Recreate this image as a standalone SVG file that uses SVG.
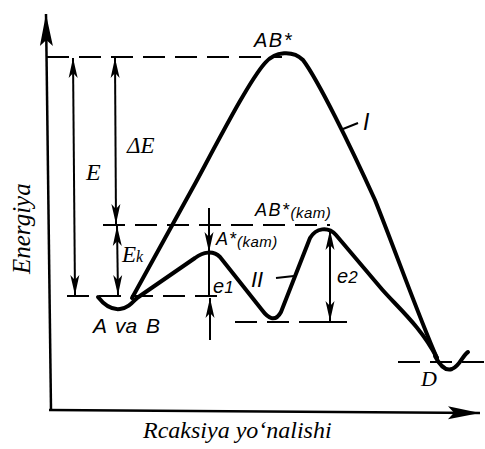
<svg xmlns="http://www.w3.org/2000/svg" width="485" height="449" viewBox="0 0 485 449">
<style>
.ax{stroke:#000;stroke-width:2.5;fill:none}
.cv{stroke:#000;stroke-width:4;fill:none;stroke-linecap:round;stroke-linejoin:round}
.ar{stroke:#000;stroke-width:2;fill:none}
.ds{stroke:#000;stroke-width:2;fill:none;stroke-dasharray:22 10}
.tk{stroke:#000;stroke-width:2;fill:none}
.sa{font-family:'Liberation Sans',Arial,sans-serif;font-style:italic;fill:#000}
</style>
<defs>
<marker id="ah" markerUnits="userSpaceOnUse" markerWidth="24" markerHeight="12" viewBox="-22 -6 24 12" refX="0" refY="0" orient="auto-start-reverse">
<path d="M0,0 L-20,-4.5 L-15,0 L-20,4.5 Z" fill="#000"/>
</marker>
<marker id="bh" markerUnits="userSpaceOnUse" markerWidth="36" markerHeight="16" viewBox="-34 -8 36 16" refX="0" refY="0" orient="auto">
<path d="M0,0 L-32,-6.5 L-26,0 L-32,6.5 Z" fill="#000"/>
</marker>
</defs>
<g id="axes">
<line class="ax" x1="51" y1="410" x2="46" y2="14" marker-end="url(#bh)"/>
<line class="ax" x1="49" y1="410" x2="480" y2="413" marker-end="url(#bh)"/>
</g>
<g id="guides">
<line class="ds" x1="47" y1="57" x2="282" y2="57"/>
<line class="ds" x1="103" y1="225" x2="330" y2="225"/>
<line class="ds" x1="67" y1="296" x2="222" y2="296"/>
<line class="ds" x1="235" y1="322" x2="347" y2="322"/>
<line class="ds" x1="398" y1="362" x2="485" y2="362"/>
</g>
<g id="connectors">
<line class="ar" x1="75" y1="295" x2="73" y2="58" marker-start="url(#ah)" marker-end="url(#ah)"/>
<line class="ar" x1="116" y1="224" x2="115" y2="58" marker-start="url(#ah)" marker-end="url(#ah)"/>
<line class="ar" x1="118" y1="295" x2="117" y2="226" marker-start="url(#ah)" marker-end="url(#ah)"/>
<line class="ar" x1="209" y1="208" x2="209" y2="252" marker-end="url(#ah)"/>
<line class="ar" x1="209" y1="252" x2="209" y2="296"/>
<line class="ar" x1="210" y1="340" x2="210" y2="298" marker-end="url(#ah)"/>
<line class="ar" x1="330" y1="321" x2="330" y2="230" marker-start="url(#ah)" marker-end="url(#ah)"/>
<line class="tk" x1="310" y1="322" x2="342" y2="322"/>
<line class="tk" x1="343" y1="129" x2="358" y2="123"/>
<line class="tk" x1="276" y1="278" x2="294" y2="276"/>
</g>
<g id="curve-I">
<path class="cv" d="M132,298 L196,182 C225,128 250,80 265,63 C275,51 293,50 303,60 C318,80 350,145 375,200 C395,250 420,320 437,358"/>
</g>
<g id="curve-II">
<path class="cv" d="M98,297 C105,306 112,310 120,309 C128,308 132,303 137,298 L195,258 C203,252 213,250 220,257 L262,310 C268,318 275,323 281,312 L310,238 C316,228 328,226 336,235 L380,287 C395,305 420,325 437,358"/>
</g>
<g id="well-D">
<path class="cv" d="M435,356 C440,366 446,371 452,369 C460,366 462,356 468,352"/>
</g>
<g id="labels">
<text class="sa" x="254" y="47" font-size="20" letter-spacing="1.5">AB*</text>
<text class="sa" x="363" y="130" font-size="23">I</text>
<text font-family="'Liberation Serif','DejaVu Serif',serif" font-style="italic" x="127" y="153" font-size="23">ΔE</text>
<text font-family="'Liberation Serif','DejaVu Serif',serif" font-style="italic" x="86" y="180" font-size="24">E</text>
<text font-family="'Liberation Serif','DejaVu Serif',serif" font-style="italic" x="122" y="262" font-size="23">E<tspan font-size="16">k</tspan></text>
<text class="sa" x="255" y="216" font-size="18" letter-spacing="1.5">AB*<tspan font-size="15" dy="2" letter-spacing="0.5">(kam)</tspan></text>
<text class="sa" x="216" y="245" font-size="18" letter-spacing="1">A*<tspan font-size="15" dy="2" letter-spacing="0.5">(kam)</tspan></text>
<text class="sa" x="213" y="293" font-size="20">e<tspan font-size="17">1</tspan></text>
<text class="sa" x="337" y="283" font-size="20">e<tspan font-size="17">2</tspan></text>
<text class="sa" x="251" y="287" font-size="22">II</text>
<text class="sa" x="93" y="333" font-size="21" word-spacing="3">A va B</text>
<text font-family="'Liberation Serif','DejaVu Serif',serif" font-style="italic" x="421" y="386" font-size="22">D</text>
<text font-family="'Liberation Serif','DejaVu Serif',serif" font-style="italic" transform="translate(30,274) rotate(-90)" font-size="25">Energiya</text>
<text font-family="'Liberation Serif','DejaVu Serif',serif" font-style="italic" x="143" y="438" font-size="24">Rcaksiya yo‘nalishi</text>
</g>
</svg>
